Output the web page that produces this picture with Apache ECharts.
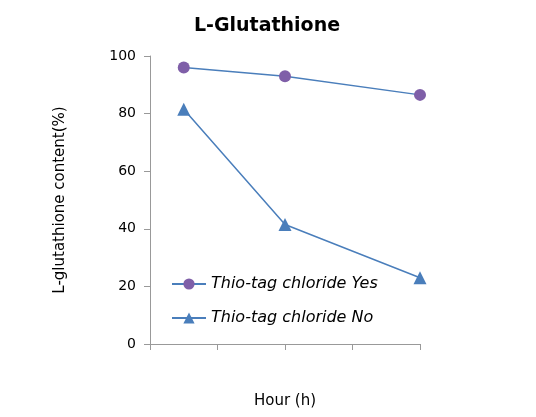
<!DOCTYPE html>
<html lang="en">
<head>
    <meta charset="UTF-8">
    <title>L-Glutathione</title>
    <script src="https://cdn.jsdelivr.net/npm/echarts@6/dist/echarts.min.js"></script>
    <style>
        html, body { margin: 0; padding: 0; background: #fff; }
        #main { width: 536px; height: 417px; }
    </style>
</head>
<body>
    <div id="main"></div>
    <script type="text/javascript">
    // x positions are hour tick positions (no labels shown on the original)
    var hours = [0.5, 2, 4];
    var withTag = [96, 93, 86.5];
    var withoutTag = [81.5, 41.5, 23];
    var seriesNames = ['Thio-tag chloride Yes', 'Thio-tag chloride No'];

    function pairs(ys) {
        return hours.map(function(h, i) { return [h, ys[i]]; });
    }

    var chart = echarts.init(document.getElementById('main'));
    chart.setOption({
        animation: false,
        textStyle: { fontFamily: 'DejaVu Sans' },
        title: {
            text: 'L-Glutathione', left: 262, top: 12, textAlign: 'center',
            textStyle: { fontSize: 19, fontWeight: 'bold', color: '#000' }
        },
        legend: {
            orient: 'vertical', left: 166, top: 271, itemGap: 18,
            itemWidth: 34, itemHeight: 14,
            textStyle: { fontSize: 16, fontStyle: 'italic', color: '#000' },
            data: seriesNames
        },
        grid: { left: 150, right: 116, top: 56, bottom: 73 },
        xAxis: {
            type: 'value', min: 0, max: 4, interval: 1,
            name: 'Hour (h)', nameLocation: 'middle', nameGap: 50,
            nameTextStyle: { fontSize: 15, color: '#000' },
            axisLine: { lineStyle: { color: '#999' } },
            axisTick: { show: true, length: 6, lineStyle: { color: '#999' } },
            axisLabel: { show: false },
            splitLine: { show: false }
        },
        yAxis: {
            type: 'value', min: 0, max: 100, interval: 20,
            name: 'L-glutathione content(%)', nameLocation: 'middle', nameGap: 82,
            nameTextStyle: { fontSize: 15, color: '#000' },
            axisLine: { show: true, lineStyle: { color: '#999' } },
            axisTick: { show: true, length: 6, lineStyle: { color: '#999' } },
            axisLabel: { fontSize: 14, color: '#000', margin: 14 },
            splitLine: { show: false }
        },
        series: [{
            name: seriesNames[0], type: 'line', data: pairs(withTag),
            symbol: 'circle', symbolSize: 12,
            lineStyle: { color: '#4a7ebb', width: 1.5 },
            itemStyle: { color: '#7f5fa8' }
        }, {
            name: seriesNames[1], type: 'line', data: pairs(withoutTag),
            symbol: 'triangle', symbolSize: 13,
            lineStyle: { color: '#4a7ebb', width: 1.5 },
            itemStyle: { color: '#4a7ebb' }
        }]
    });
    </script>
</body>
</html>
